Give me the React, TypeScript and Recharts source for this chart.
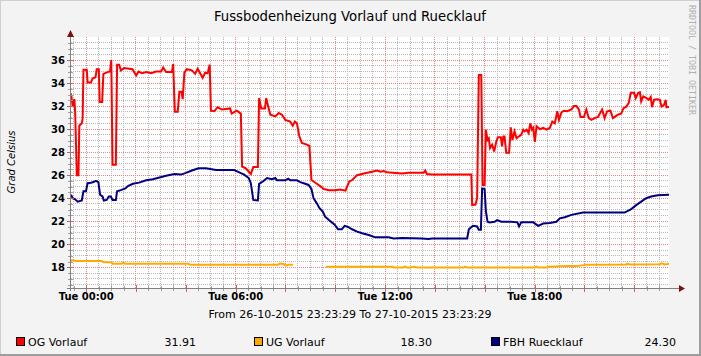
import React from "react";
import { LineChart, Line, XAxis, YAxis, ReferenceLine } from "recharts";

// ---- data (minutes since 26-10-2015 23:23:29) ----
const ogTimes = [0,4,8,10,14,18,20,26,28,30,38,40,48,52,59,62,67,69,75,78,88,94,97,100,108,111,116,120,128,148,157,163,171,181,193,205,217,222,229,243,246,250,257,261,266,269,273,279,291,299,305,311,317,323,329,334,337,345,353,364,373,383,387,399,409,412,421,433,439,450,453,458,462,467,470,475,480,492,500,508,516,528,534,539,544,550,556,568,574,579,584,592,600,609,621,636,648,661,670,678,689,705,725,737,745,753,761,797,813,849,853,857,869,964,966,974,978,982,988,991,996,999,1003,1006,1009,1014,1019,1024,1028,1035,1038,1041,1044,1048,1055,1059,1063,1068,1073,1078,1084,1089,1092,1097,1102,1106,1110,1113,1117,1121,1129,1137,1145,1153,1159,1165,1171,1175,1181,1187,1195,1205,1211,1217,1223,1227,1235,1241,1247,1253,1261,1269,1279,1285,1291,1299,1305,1311,1317,1325,1330,1337,1343,1348,1356,1360,1366,1370,1373,1378,1386,1391,1396,1399,1404,1412,1418,1422,1428,1432,1434,1440];
const ogValues = [33.1,32.0,32.6,31.5,26.0,26.0,30.3,30.5,30.9,35.15,35.15,34.05,34.05,34.4,34.5,35.2,35.2,32.35,32.35,34.8,34.95,35.0,36.0,26.9,26.9,35.6,35.6,35.1,35.3,35.2,34.65,35.0,34.85,34.95,34.85,35.0,35.0,35.35,34.95,34.95,35.65,31.5,31.5,33.25,33.25,32.6,34.9,35.2,35.1,34.8,35.25,34.85,34.45,34.9,34.85,35.6,31.6,31.55,31.9,31.7,31.75,31.8,31.35,31.6,31.35,26.75,26.6,26.1,26.7,26.7,32.7,31.8,31.8,31.8,32.7,31.95,31.25,31.1,31.4,31.25,30.8,30.65,30.3,30.65,30.5,29.35,28.8,28.65,28.55,25.6,25.45,25.25,25.05,24.8,24.7,24.7,24.75,24.65,25.45,25.6,26.0,26.15,26.3,26.4,26.3,26.35,26.25,26.15,26.2,26.2,26.4,26.1,26.05,26.05,23.4,23.45,24.0,34.7,34.7,25.15,25.15,29.95,29.05,29.2,28.35,28.65,28.05,28.9,29.3,29.3,28.5,29.35,29.35,27.95,27.95,30.15,29.05,29.8,29.2,29.35,29.5,29.95,29.8,29.95,29.65,30.5,29.95,30.1,28.9,30.25,30.0,30.1,29.95,30.1,30.65,30.5,31.55,30.8,31.45,31.6,31.55,31.7,32.0,32.0,31.7,31.05,31.05,31.7,30.95,30.8,30.95,31.05,31.7,30.95,31.55,31.6,30.95,31.1,31.25,31.35,31.8,31.95,32.25,33.15,33.15,32.7,33.15,33.2,32.4,32.85,32.7,32.55,32.8,31.9,32.55,32.6,32.55,31.95,32.1,32.55,31.9,31.91];

const ugTimes = [0,12,74,78,98,100,122,126,130,282,287,499,503,511,518,523,535,575,614,775,778,800,803,812,828,834,945,949,953,1117,1121,1125,1146,1150,1198,1218,1242,1338,1339,1346,1418,1422,1430,1440];
const ugValues = [18.63,18.55,18.55,18.43,18.43,18.3,18.3,18.45,18.3,18.3,18.23,18.23,18.32,18.3,18.14,18.23,18.23,null,18.05,18.05,17.97,17.97,18.05,17.97,18.05,17.97,17.97,18.05,17.97,17.97,18.05,17.97,17.97,18.05,18.1,18.1,18.23,18.25,18.32,18.25,18.27,18.35,18.25,18.3];

const fbhTimes = [0,4,10,16,26,30,36,40,48,54,60,66,70,76,79,86,91,96,100,108,111,120,131,137,149,164,181,197,213,229,249,265,277,291,307,325,349,373,393,405,417,428,433,439,450,453,462,472,484,492,496,516,523,528,544,552,564,572,579,584,592,598,606,612,621,628,635,643,652,659,667,677,689,701,717,733,765,777,797,845,861,869,954,958,968,978,982,987,990,996,999,1003,1008,1020,1026,1036,1060,1075,1079,1084,1113,1125,1137,1153,1169,1177,1189,1205,1233,1269,1305,1333,1341,1349,1361,1373,1385,1397,1413,1440];
const fbhValues = [24.3,24.0,23.9,23.7,23.8,24.6,24.6,25.3,25.35,25.4,25.5,25.4,24.3,24.15,23.8,23.85,24.15,24.15,23.85,23.85,24.6,24.7,24.85,25.05,25.25,25.35,25.55,25.65,25.8,25.95,26.1,26.05,26.2,26.4,26.6,26.6,26.45,26.45,26.45,26.25,26.05,25.75,25.3,23.85,23.8,25.25,25.45,25.75,25.65,25.75,25.55,25.55,25.7,25.55,25.55,25.4,25.25,25.15,24.8,24.0,23.55,23.15,22.85,22.4,22.1,21.9,21.7,21.3,21.3,21.6,21.5,21.3,21.1,20.95,20.8,20.6,20.6,20.5,20.55,20.5,20.45,20.5,20.5,21.3,21.6,21.55,21.25,21.25,24.85,24.8,22.9,21.95,21.9,21.95,22.1,21.95,21.95,21.9,21.55,21.9,21.9,21.6,21.8,21.85,21.95,22.25,22.35,22.55,22.75,22.75,22.75,22.75,22.9,23.05,23.4,23.7,24.0,24.15,24.25,24.3];

const seriesNames = ["OG Vorlauf", "UG Vorlauf", "FBH Ruecklauf"];
const seriesColors = ["#ff0000", "#ffaa00", "#000080"];
const legendValues = [31.91, 18.3, 24.3];

const xTickTimes = [36.5, 396.5, 756.5, 1116.5];
const xTickLabels = ["Tue 00:00", "Tue 06:00", "Tue 12:00", "Tue 18:00"];
const yTicks = [18, 20, 22, 24, 26, 28, 30, 32, 34, 36];

const title = "Fussbodenheizung Vorlauf und Ruecklauf";
const yLabel = "Grad Celsius";
const footer = "From 26-10-2015 23:23:29 To 27-10-2015 23:23:29";
const watermark = "RRDTOOL / TOBI OETIKER";

// ---- layout ----
const W = 701, H = 356;
const PL = 71, PT = 37, PR = 669, PB = 288;
const X_MAX = 1440;
const Y_MIN = 16.2, Y_MAX = 38;

const toRows = (ts: number[], vs: (number | null)[]) => ts.map((t, i) => ({ t, v: vs[i] }));
const ogData = toRows(ogTimes, ogValues);
const ugData = toRows(ugTimes, ugValues);
const fbhData = toRows(fbhTimes, fbhValues);

const minorY: number[] = [];
for (let v = 16.5; v < Y_MAX; v += 0.5) if (v % 2 !== 0) minorY.push(v);
const majorY: number[] = [];
for (let v = 18; v < Y_MAX; v += 2) majorY.push(v);
const minorX: number[] = [];
const majorX: number[] = [];
for (let t = 6.5; t < X_MAX; t += 30) {
  if (Math.round(t - 36.5) % 120 === 0) majorX.push(t);
  else minorX.push(t);
}

const xPx = (t: number) => PL + (t / X_MAX) * (PR - PL);
const yPx = (v: number) => PT + ((Y_MAX - v) / (Y_MAX - Y_MIN)) * (PB - PT);

const MINOR = "#b8b8b8";
const MAJOR = "#e58585";
const FONT = "'DejaVu Sans', sans-serif";

export default function App() {
  return (
    <div style={{ position: "fixed", left: 0, top: 0, width: W, height: H, background: "#f3f3f3", fontFamily: FONT }}>
      <div style={{ position: "absolute", left: PL, top: PT, width: PR - PL, height: PB - PT, background: "#ffffff" }} />
      <div style={{ position: "absolute", left: 0, top: 0 }}>
        <LineChart width={W} height={H} margin={{ top: PT, right: W - PR, bottom: H - PB - 30, left: PL - 50 }}>
          <XAxis
            type="number"
            dataKey="t"
            domain={[0, X_MAX]}
            allowDataOverflow
            ticks={xTickTimes}
            tickFormatter={(v: number) => xTickLabels[xTickTimes.indexOf(v)] ?? ""}
            tick={{ fontSize: 10, fontWeight: "bold", fill: "#000", fontFamily: FONT }}
            tickLine={false}
            axisLine={false}
            tickSize={0}
            tickMargin={5}
            height={30}
            interval={0}
          />
          <YAxis
            type="number"
            domain={[Y_MIN, Y_MAX]}
            allowDataOverflow
            ticks={yTicks}
            tick={{ fontSize: 10, fontWeight: "bold", fill: "#000", fontFamily: FONT }}
            tickLine={false}
            axisLine={false}
            tickSize={0}
            tickMargin={6}
            width={50}
            interval={0}
          />
          {minorY.map((v) => (
            <ReferenceLine key={"my" + v} y={v} stroke={MINOR} strokeDasharray="1 1" shapeRendering="crispEdges" />
          ))}
          {minorX.map((t) => (
            <ReferenceLine key={"mx" + t} x={t} stroke={MINOR} strokeDasharray="1 1" shapeRendering="crispEdges" />
          ))}
          {majorY.map((v) => (
            <ReferenceLine key={"My" + v} y={v} stroke={MAJOR} strokeDasharray="1 1" shapeRendering="crispEdges" />
          ))}
          {majorX.map((t) => (
            <ReferenceLine key={"Mx" + t} x={t} stroke={MAJOR} strokeDasharray="1 1" shapeRendering="crispEdges" />
          ))}
          <Line data={ogData} dataKey="v" type="linear" stroke={seriesColors[0]} strokeWidth={2} dot={false} activeDot={false} isAnimationActive={false} connectNulls={false} />
          <Line data={ugData} dataKey="v" type="linear" stroke={seriesColors[1]} strokeWidth={2} dot={false} activeDot={false} isAnimationActive={false} connectNulls={false} />
          <Line data={fbhData} dataKey="v" type="linear" stroke={seriesColors[2]} strokeWidth={2} dot={false} activeDot={false} isAnimationActive={false} connectNulls={false} />
        </LineChart>
      </div>
      <svg width={W} height={H} style={{ position: "absolute", left: 0, top: 0, pointerEvents: "none" }}>
        {/* bevel border */}
        <line x1={0} y1={0.5} x2={W} y2={0.5} stroke="#cfcfcf" strokeWidth={1} />
        <line x1={0.5} y1={0} x2={0.5} y2={H} stroke="#cfcfcf" strokeWidth={1} />
        <line x1={0} y1={H - 1} x2={W} y2={H - 1} stroke="#9e9e9e" strokeWidth={2} />
        <line x1={W - 1} y1={0} x2={W - 1} y2={H} stroke="#9e9e9e" strokeWidth={2} />
        {/* axis ticks */}
        {minorY.map((v) => (
          <line key={"ty" + v} x1={PL - 3} x2={PL + 2} y1={Math.round(yPx(v)) + 0.5} y2={Math.round(yPx(v)) + 0.5} stroke="#a0a0a0" />
        ))}
        {majorY.map((v) => (
          <line key={"tY" + v} x1={PL - 4} x2={PL + 3} y1={Math.round(yPx(v)) + 0.5} y2={Math.round(yPx(v)) + 0.5} stroke="#d06060" />
        ))}
        {minorX.map((t) => (
          <line key={"tx" + t} y1={PB - 2} y2={PB + 3} x1={Math.round(xPx(t)) + 0.5} x2={Math.round(xPx(t)) + 0.5} stroke="#a0a0a0" />
        ))}
        {majorX.map((t) => (
          <line key={"tX" + t} y1={PB - 3} y2={PB + 4} x1={Math.round(xPx(t)) + 0.5} x2={Math.round(xPx(t)) + 0.5} stroke="#d06060" />
        ))}
        {/* axes */}
        <line x1={PL - 0.5} y1={PB + 3} x2={PL - 0.5} y2={32} stroke="#808080" />
        <line x1={PL - 4} y1={PB + 0.5} x2={680} y2={PB + 0.5} stroke="#808080" />
        <polygon points={`${PL - 4},37 ${PL + 3},37 ${PL - 0.5},30`} fill="#7f1010" />
        <polygon points={`679,${PB - 3} 679,${PB + 4} 685,${PB + 0.5}`} fill="#7f1010" />
        {/* texts */}
        <text x={350} y={21} textAnchor="middle" fontSize={14} fontFamily="'DejaVu Sans Condensed', 'DejaVu Sans', sans-serif" fill="#000" textLength={272} lengthAdjust="spacingAndGlyphs">{title}</text>
        <text transform="translate(689,5) rotate(90)" fontSize={8} fontFamily="'DejaVu Sans Mono', monospace" fill="#b0b0b0" textLength={110} lengthAdjust="spacingAndGlyphs">{watermark}</text>
        <text transform="translate(15,162) rotate(-90)" textAnchor="middle" fontSize={10} fontStyle="italic" fontFamily={FONT} fill="#000">{yLabel}</text>
        <text x={350} y={318} textAnchor="middle" fontSize={11} fontFamily={FONT} fill="#000">{footer}</text>
        {seriesNames.map((name, i) => {
          const bx = [16, 254, 491][i];
          const vx = [196, 432, 676][i];
          return (
            <g key={name}>
              <rect x={bx + 0.5} y={337.5} width={8} height={8} fill={seriesColors[i]} stroke="#000" strokeWidth={1} />
              <text x={bx + 12} y={346} fontSize={11} fontFamily={FONT} fill="#000">{name}</text>
              <text x={vx} y={346} textAnchor="end" fontSize={11} fontFamily={FONT} fill="#000">{legendValues[i].toFixed(2)}</text>
            </g>
          );
        })}
      </svg>
    </div>
  );
}
